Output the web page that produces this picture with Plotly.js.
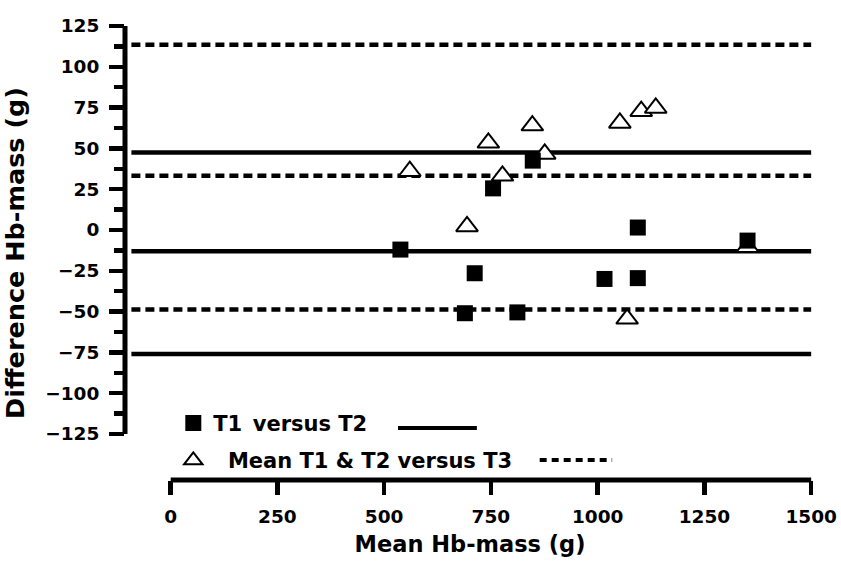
<!DOCTYPE html>
<html><head><meta charset="utf-8">
<script src="https://cdn.plot.ly/plotly-3.0.1.min.js"></script>
<style>body{margin:0;background:#fff}</style></head>
<body><div id="chart" style="width:841px;height:563px"></div>
<script>
// T1 versus T2 (filled squares)
const t12Mean = [538, 689, 712, 755, 812, 848, 1016, 1094, 1094, 1351];
const t12Diff = [-12, -51, -26.5, 25.5, -50.5, 42.5, -30, 1.5, -29.5, -6.5];
// Mean T1 & T2 versus T3 (open triangles)
const t3Mean = [560, 694, 744, 777, 847, 876, 1052, 1069, 1102, 1136, 1351];
const t3Diff = [36, 2.2, 53.4, 33.2, 64, 46.6, 65.6, -54.4, 72.8, 74.8, -10.5];
// Bland-Altman lines: upper limit, mean bias, lower limit
const t12Limits = [47.5, -13, -76];
const t3Limits = [113.5, 33.3, -48.7];
// axis ticks
const yTicks = [-125, -100, -75, -50, -25, 0, 25, 50, 75, 100, 125];
const xTicks = [0, 250, 500, 750, 1000, 1250, 1500];
const names = ['T1\u2002versus T2', 'Mean T1 & T2 versus T3'];

const FONT = 'DejaVu Sans';
const yMinor = [];
for (let i = 0; i < yTicks.length - 1; i++) yMinor.push((yTicks[i] + yTicks[i + 1]) / 2);

const traces = [
  {x: t3Mean, y: t3Diff, type: 'scatter', mode: 'markers', name: '\u00a0\u00a0' + names[1],
   legendrank: 2, legendgroup: 'b',
   marker: {symbol: 'triangle-up', size: 19, color: 'white', line: {color: 'black', width: 2}}, cliponaxis: false},
  {x: t12Mean, y: t12Diff, type: 'scatter', mode: 'markers', name: names[0],
   legendrank: 1, legendgroup: 'a',
   marker: {symbol: 'square', size: 16, color: 'black', line: {width: 0}}, cliponaxis: false}
];

const shapes = [];
const lineX0 = -92, lineX1 = 1500;
t12Limits.forEach(v => shapes.push({type: 'line', xref: 'x', yref: 'y', x0: lineX0, x1: lineX1, y0: v, y1: v,
  layer: 'below', line: {color: 'black', width: 4.5}}));
t3Limits.forEach(v => shapes.push({type: 'line', xref: 'x', yref: 'y', x0: lineX0, x1: lineX1, y0: v, y1: v,
  layer: 'below', line: {color: 'black', width: 4.5, dash: '9px,5px'}}));
// axis lines
shapes.push({type: 'line', xref: 'paper', yref: 'y', x0: 0, x1: 0, y0: yTicks[0], y1: yTicks[yTicks.length - 1],
  line: {color: 'black', width: 5}});
shapes.push({type: 'line', xref: 'x', yref: 'paper', x0: xTicks[0], x1: xTicks[xTicks.length - 1], y0: 0, y1: 0,
  line: {color: 'black', width: 5}});
// legend line samples
shapes.push({type: 'line', xref: 'paper', yref: 'paper', x0: 0.3957, x1: 0.510, y0: 0.1145, y1: 0.1145,
  line: {color: 'black', width: 4}});
shapes.push({type: 'line', xref: 'paper', yref: 'paper', x0: 0.601, x1: 0.706, y0: 0.044, y1: 0.044,
  line: {color: 'black', width: 4, dash: '7px,5px'}});

const layout = {
  width: 841, height: 563,
  margin: {l: 125, r: 26, t: 26, b: 83},
  paper_bgcolor: 'white', plot_bgcolor: 'white',
  font: {family: FONT, color: 'black', size: 18, weight: 'bold'},
  showlegend: true,
  legend: {x: 0.07, y: 0.17, xanchor: 'left', yanchor: 'top', bgcolor: 'rgba(0,0,0,0)',
    font: {family: FONT, size: 21, weight: 'bold', color: 'black'}, tracegroupgap: 7, traceorder: 'grouped'},
  xaxis: {range: [-107, 1509], tickvals: xTicks, ticktext: xTicks.map(String), ticks: 'outside', ticklen: 14,
    tickwidth: 4.5, tickcolor: 'black', showgrid: false, zeroline: false, showline: false,
    ticklabelstandoff: 6,
    tickfont: {family: FONT, size: 18.5, weight: 'bold'},
    title: {text: 'Mean Hb-mass (g)', font: {family: FONT, size: 22.5, weight: 'bold'}, standoff: 10}},
  yaxis: {range: [-153.2, 125], tickvals: yTicks, ticks: 'outside', ticklen: 15, tickwidth: 4.5, tickcolor: 'black',
    showgrid: false, zeroline: false, showline: false, ticklabelstandoff: 6,
    minor: {tickvals: yMinor, ticks: 'outside', ticklen: 10, tickwidth: 4.5, tickcolor: 'black', showgrid: false},
    tickfont: {family: FONT, size: 18.5, weight: 'bold'},
    title: {text: 'Difference Hb-mass (g)', font: {family: FONT, size: 25.5, weight: 'bold'}, standoff: 13}},
  shapes: shapes
};

Plotly.newPlot('chart', traces, layout, {displayModeBar: false, staticPlot: true});
</script>
</body></html>
